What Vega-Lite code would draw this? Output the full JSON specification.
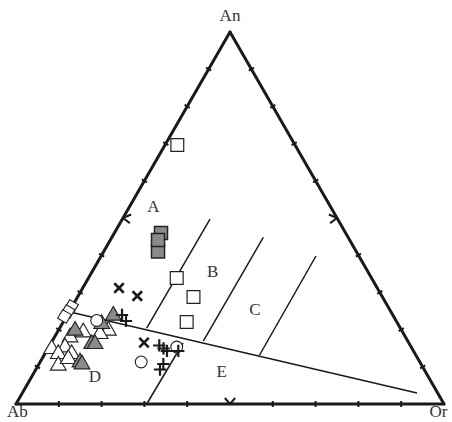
{
  "$schema": "https://vega.github.io/schema/vega-lite/v6.json",
  "width": 452,
  "height": 422,
  "padding": 0,
  "autosize": {"type": "none"},
  "background": "white",
  "config": {"view": {"stroke": null}},
  "datasets": {
    "outline": [
      {"x": 0, "y": 0, "x2": 100, "y2": 0},
      {"x": 0, "y": 0, "x2": 50, "y2": 86.6},
      {"x": 100, "y": 0, "x2": 50, "y2": 86.6}
    ],
    "fields": [
      {"x": 12.62, "y": 21.42, "x2": 93.69, "y2": 2.56},
      {"x": 30.54, "y": 17.69, "x2": 45.33, "y2": 43.06},
      {"x": 43.76, "y": 14.66, "x2": 57.78, "y2": 38.8},
      {"x": 56.85, "y": 11.29, "x2": 70.09, "y2": 34.45},
      {"x": 30.54, "y": 0, "x2": 39.02, "y2": 14.2}
    ],
    "ticks": [
      {"x": 10, "y": -0.7, "x2": 10, "y2": 0.7},
      {"x": 20, "y": -0.7, "x2": 20, "y2": 0.7},
      {"x": 30, "y": -0.7, "x2": 30, "y2": 0.7},
      {"x": 40, "y": -0.7, "x2": 40, "y2": 0.7},
      {"x": 60, "y": -0.7, "x2": 60, "y2": 0.7},
      {"x": 70, "y": -0.7, "x2": 70, "y2": 0.7},
      {"x": 80, "y": -0.7, "x2": 80, "y2": 0.7},
      {"x": 90, "y": -0.7, "x2": 90, "y2": 0.7},
      {"x": 5.606, "y": 8.31, "x2": 4.394, "y2": 9.01},
      {"x": 10.606, "y": 16.97, "x2": 9.394, "y2": 17.67},
      {"x": 15.606, "y": 25.63, "x2": 14.394, "y2": 26.33},
      {"x": 20.606, "y": 34.29, "x2": 19.394, "y2": 34.99},
      {"x": 30.606, "y": 51.61, "x2": 29.394, "y2": 52.31},
      {"x": 35.606, "y": 60.27, "x2": 34.394, "y2": 60.97},
      {"x": 40.606, "y": 68.93, "x2": 39.394, "y2": 69.63},
      {"x": 45.606, "y": 77.59, "x2": 44.394, "y2": 78.29},
      {"x": 95.606, "y": 9.01, "x2": 94.394, "y2": 8.31},
      {"x": 90.606, "y": 17.67, "x2": 89.394, "y2": 16.97},
      {"x": 85.606, "y": 26.33, "x2": 84.394, "y2": 25.63},
      {"x": 80.606, "y": 34.99, "x2": 79.394, "y2": 34.29},
      {"x": 70.606, "y": 52.31, "x2": 69.394, "y2": 51.61},
      {"x": 65.606, "y": 60.97, "x2": 64.394, "y2": 60.27},
      {"x": 60.606, "y": 69.63, "x2": 59.394, "y2": 68.93},
      {"x": 55.606, "y": 78.29, "x2": 54.394, "y2": 77.59},
      {"x": 50, "y": 0, "x2": 48.8, "y2": 1.4},
      {"x": 50, "y": 0, "x2": 51.2, "y2": 1.4},
      {"x": 25, "y": 43.3, "x2": 26.9, "y2": 44.1},
      {"x": 25, "y": 43.3, "x2": 26.6, "y2": 42.1},
      {"x": 75, "y": 43.3, "x2": 73.1, "y2": 44.1},
      {"x": 75, "y": 43.3, "x2": 73.4, "y2": 42.1}
    ],
    "points": [
      {"type": "tri_open", "x": 21.57, "y": 17.62},
      {"type": "tri_open", "x": 19.63, "y": 16.83},
      {"type": "tri_open", "x": 15.72, "y": 17.23},
      {"type": "tri_open", "x": 12.62, "y": 16.06},
      {"type": "tri_open", "x": 8.34, "y": 13.34},
      {"type": "tri_open", "x": 11.45, "y": 13.73},
      {"type": "tri_open", "x": 9.88, "y": 12.17},
      {"type": "tri_open", "x": 13.01, "y": 12.17},
      {"type": "tri_open", "x": 9.88, "y": 9.47},
      {"type": "tri_open", "x": 12.22, "y": 11.01},
      {"type": "tri_grey", "x": 22.73, "y": 21.11},
      {"type": "tri_grey", "x": 20.02, "y": 19.16},
      {"type": "tri_grey", "x": 13.79, "y": 17.62},
      {"type": "tri_grey", "x": 17.69, "y": 14.5},
      {"type": "tri_grey", "x": 18.46, "y": 14.5},
      {"type": "tri_grey", "x": 14.95, "y": 10.24},
      {"type": "tri_grey", "x": 15.42, "y": 9.78},
      {"type": "sq_open", "x": 37.69, "y": 60.29},
      {"type": "sq_open", "x": 37.55, "y": 29.33},
      {"type": "sq_open", "x": 41.47, "y": 24.91},
      {"type": "sq_open", "x": 39.88, "y": 19.09},
      {"type": "sq_grey", "x": 33.88, "y": 39.8},
      {"type": "sq_grey", "x": 33.18, "y": 35.5},
      {"type": "sq_grey", "x": 33.18, "y": 38.18},
      {"type": "circle", "x": 18.86, "y": 19.44},
      {"type": "circle", "x": 29.25, "y": 9.78},
      {"type": "circle", "x": 37.55, "y": 13.27},
      {"type": "diamond", "x": 12.97, "y": 22.7},
      {"type": "diamond", "x": 12.15, "y": 21.53},
      {"type": "diamond", "x": 11.33, "y": 20.37},
      {"type": "cross", "x": 24.07, "y": 27.0},
      {"type": "cross", "x": 28.34, "y": 25.14},
      {"type": "cross", "x": 29.91, "y": 14.27},
      {"type": "plus", "x": 24.77, "y": 20.72},
      {"type": "plus", "x": 25.7, "y": 19.32},
      {"type": "plus", "x": 33.48, "y": 13.62},
      {"type": "plus", "x": 34.46, "y": 12.92},
      {"type": "plus", "x": 35.28, "y": 12.34},
      {"type": "plus", "x": 37.92, "y": 12.34},
      {"type": "plus", "x": 34.42, "y": 9.31},
      {"type": "plus", "x": 33.64, "y": 8.03}
    ],
    "labels": [
      {"text": "A", "x": 32.08, "y": 45.79},
      {"text": "B", "x": 45.96, "y": 30.8},
      {"text": "C", "x": 55.84, "y": 21.88},
      {"text": "D", "x": 18.46, "y": 6.35},
      {"text": "E", "x": 48.06, "y": 7.52},
      {"text": "An", "x": 50.0, "y": 90.32},
      {"text": "Ab", "x": 0.3, "y": -1.9},
      {"text": "Or", "x": 98.7, "y": -1.9}
    ]
  },
  "encoding": {
    "x": {"field": "x", "type": "quantitative", "scale": {"domain": [-3.738, 101.87], "nice": false, "zero": false}, "axis": null},
    "y": {"field": "y", "type": "quantitative", "scale": {"domain": [-4.19, 94.04], "nice": false, "zero": false}, "axis": null}
  },
  "layer": [
    {
      "data": {"name": "fields"},
      "mark": {"type": "rule", "stroke": "#1a1a1a", "strokeWidth": 1.5},
      "encoding": {"x2": {"field": "x2"}, "y2": {"field": "y2"}}
    },
    {
      "data": {"name": "outline"},
      "mark": {"type": "rule", "stroke": "#1a1a1a", "strokeWidth": 3, "strokeCap": "round"},
      "encoding": {"x2": {"field": "x2"}, "y2": {"field": "y2"}}
    },
    {
      "data": {"name": "ticks"},
      "mark": {"type": "rule", "stroke": "#1a1a1a", "strokeWidth": 2},
      "encoding": {"x2": {"field": "x2"}, "y2": {"field": "y2"}}
    },
    {
      "data": {"name": "points"},
      "transform": [{"filter": "datum.type === 'tri_open'"}],
      "mark": {"type": "point", "shape": "triangle-up", "size": 250, "filled": true, "fill": "white", "stroke": "#222", "strokeWidth": 1.1, "opacity": 1}
    },
    {
      "data": {"name": "points"},
      "transform": [{"filter": "datum.type === 'tri_grey'"}],
      "mark": {"type": "point", "shape": "triangle-up", "size": 250, "filled": true, "fill": "#8a8a8a", "stroke": "#222", "strokeWidth": 1.1, "opacity": 1}
    },
    {
      "data": {"name": "points"},
      "transform": [{"filter": "datum.type === 'sq_open'"}],
      "mark": {"type": "point", "shape": "square", "size": 165, "filled": true, "fill": "white", "stroke": "#222", "strokeWidth": 1.2, "opacity": 1}
    },
    {
      "data": {"name": "points"},
      "transform": [{"filter": "datum.type === 'sq_grey'"}],
      "mark": {"type": "point", "shape": "square", "size": 170, "filled": true, "fill": "#8a8a8a", "stroke": "#222", "strokeWidth": 1.5, "opacity": 1}
    },
    {
      "data": {"name": "points"},
      "transform": [{"filter": "datum.type === 'circle'"}],
      "mark": {"type": "point", "shape": "circle", "size": 140, "filled": true, "fill": "white", "stroke": "#222", "strokeWidth": 1.1, "opacity": 1}
    },
    {
      "data": {"name": "points"},
      "transform": [{"filter": "datum.type === 'diamond'"}],
      "mark": {"type": "point", "shape": "square", "size": 100, "angle": 30, "filled": true, "fill": "white", "stroke": "#222", "strokeWidth": 1.1, "opacity": 1}
    },
    {
      "data": {"name": "points"},
      "transform": [{"filter": "datum.type === 'cross'"}],
      "mark": {"type": "point", "shape": "M-1,-1L1,1M-1,1L1,-1", "size": 90, "filled": false, "stroke": "#1a1a1a", "strokeWidth": 2.6, "opacity": 1}
    },
    {
      "data": {"name": "points"},
      "transform": [{"filter": "datum.type === 'plus'"}],
      "mark": {"type": "point", "shape": "M-1,0L1,0M0,-1L0,1", "size": 150, "filled": false, "stroke": "#1a1a1a", "strokeWidth": 2.2, "opacity": 1}
    },
    {
      "data": {"name": "labels"},
      "mark": {"type": "text", "font": "Liberation Serif", "fontSize": 17, "fill": "#333", "align": "center", "baseline": "middle"},
      "encoding": {"text": {"field": "text"}}
    }
  ]
}
